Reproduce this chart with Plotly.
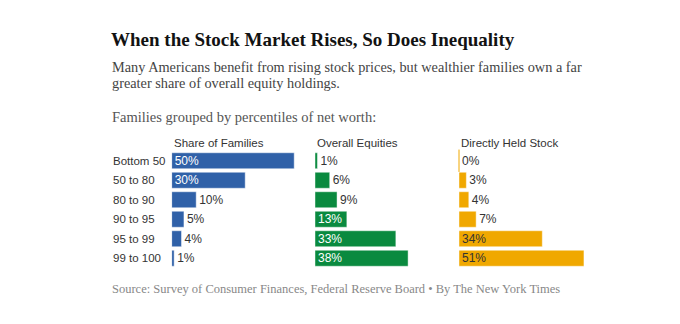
import plotly.graph_objects as go

W, H = 680, 324

groups = ["Bottom 50", "50 to 80", "80 to 90", "90 to 95", "95 to 99", "99 to 100"]
share_of_families = [50, 30, 10, 5, 4, 1]
overall_equities = [1, 6, 9, 13, 33, 38]
directly_held_stock = [0, 3, 4, 7, 34, 51]

series_names = ["Share of Families", "Overall Equities", "Directly Held Stock"]
series_values = [share_of_families, overall_equities, directly_held_stock]
# smallest value drawn with its label inside the bar
inside_from = [30, 13, 34]

title = "When the Stock Market Rises, So Does Inequality"
subtitle_lines = ["Many Americans benefit from rising stock prices, but wealthier families own a far",
                  "greater share of overall equity holdings."]
intro = "Families grouped by percentiles of net worth:"
source = "Source: Survey of Consumer Finances, Federal Reserve Board \u2022 By The New York Times"

colors = ["#3061A8", "#0A8A3F", "#F0A800"]
inside_text_colors = ["#ffffff", "#ffffff", "#333333"]
axis_starts_px = [171.7, 315.0, 459.0]
px_per_pct = 2.45
x_max = 55

SANS = "Liberation Sans, Arial, sans-serif"
SERIF = "Liberation Serif, Times New Roman, serif"


def px_x(p):
    return p / W


def px_y(p):
    return 1 - p / H


fig = go.Figure()
axis_names = ["x", "x2", "x3"]
for i, (name, vals) in enumerate(zip(series_names, series_values)):
    positions = ["inside" if v >= inside_from[i] else "outside" for v in vals]
    fig.add_trace(go.Bar(
        x=vals, y=groups, orientation="h",
        xaxis=axis_names[i], yaxis="y",
        marker=dict(color=colors[i], line=dict(color="rgba(255,255,255,0.45)", width=1)),
        text=[f"{v}%" for v in vals],
        textposition=positions,
        insidetextanchor="start",
        insidetextfont=dict(family=SANS, size=12, color=inside_text_colors[i]),
        outsidetextfont=dict(family=SANS, size=12, color="#333333"),
        cliponaxis=False,
        hoverinfo="skip",
        showlegend=False,
        name=name,
    ))
    # hairline for zero-valued bars
    zero_y = [g for g, v in zip(groups, vals) if v == 0]
    if zero_y:
        fig.add_trace(go.Scatter(
            x=[0] * len(zero_y), y=zero_y, mode="markers",
            xaxis=axis_names[i], yaxis="y",
            marker=dict(symbol="line-ns", size=16, line=dict(color=colors[i], width=1)),
            cliponaxis=False, hoverinfo="skip", showlegend=False,
        ))

# y domain: rows centred from ~160.7px to ~258px
row_top, row_bottom = 151.0, 268.0
ax_common = dict(showgrid=False, zeroline=False, showticklabels=False, showline=False,
                 range=[0, x_max], fixedrange=True, anchor="y")
layout_axes = {}
for i, a in enumerate(["xaxis", "xaxis2", "xaxis3"]):
    start = axis_starts_px[i]
    layout_axes[a] = dict(ax_common, domain=[px_x(start), px_x(start + x_max * px_per_pct)])


def text_ann(text, x_px, y_px, family, size, color):
    return dict(text=text, x=px_x(x_px), y=px_y(y_px), xref="paper", yref="paper",
                xanchor="left", yanchor="middle", showarrow=False, align="left",
                font=dict(family=family, size=size, color=color))


annotations = []
annotations.append(text_ann(f"<b>{title}</b>", 109, 39.5, SERIF, 19, "#121212"))
for k, line in enumerate(subtitle_lines):
    annotations.append(text_ann(line, 109.5, 66.5 + 17 * k, SERIF, 14.3, "#444444"))
annotations.append(text_ann(intro, 109.5, 117, SERIF, 14.5, "#555555"))
for i, name in enumerate(series_names):
    annotations.append(dict(text=name, x=0, y=px_y(142.5), xref=f"{axis_names[i]} domain", yref="paper",
                            xanchor="left", yanchor="middle", showarrow=False,
                            font=dict(family=SANS, size=11.5, color="#333333")))
for g in groups:
    annotations.append(dict(text=g, x=px_x(111), y=g, xref="paper", yref="y",
                            xanchor="left", yanchor="middle", showarrow=False,
                            font=dict(family=SANS, size=11.5, color="#333333")))
annotations.append(text_ann(source, 110, 288.5, SERIF, 12.5, "#888888"))

fig.update_layout(
    width=W, height=H,
    margin=dict(l=0, r=0, t=0, b=0),
    paper_bgcolor="white", plot_bgcolor="white",
    bargap=0.18,
    uniformtext=dict(minsize=12, mode="show"),
    yaxis=dict(domain=[px_y(row_bottom), px_y(row_top)], type="category",
               categoryorder="array", categoryarray=groups,
               range=[len(groups) - 0.5, -0.5], autorange=False,
               showgrid=False, zeroline=False, showticklabels=False, showline=False,
               fixedrange=True),
    annotations=annotations,
    **layout_axes,
)

fig.write_html("out.html")
